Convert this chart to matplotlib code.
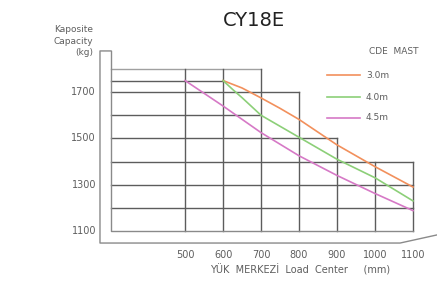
import matplotlib
matplotlib.use("Agg")
import matplotlib.pyplot as plt

# load center (mm) and capacity (kg)
mast_labels = ["3.0m", "4.0m", "4.5m"]
mast_colors = ["#f2905c", "#8ccf78", "#d679c6"]
x_30 = [600, 650, 700, 750, 800, 900, 1000, 1100]
y_30 = [1750, 1718, 1675, 1630, 1582, 1472, 1378, 1290]
x_40 = [600, 625, 650, 700, 800, 900, 1000, 1100]
y_40 = [1750, 1712, 1676, 1600, 1505, 1410, 1330, 1230]
x_45 = [500, 600, 700, 800, 900, 1000, 1100]
y_45 = [1750, 1640, 1525, 1425, 1340, 1262, 1188]

x_ticks = [500, 600, 700, 800, 900, 1000, 1100]
y_ticks = [1100, 1300, 1500, 1700]

# staircase grid of the load diagram: (level, end of line)
h_lines = [(1200, 1100), (1300, 1100), (1400, 1100), (1500, 900),
           (1600, 700), (1700, 800), (1750, 600)]
# (x, top of line)
v_lines = [(500, 1800), (600, 1800), (700, 1800), (800, 1700),
           (900, 1500), (1000, 1400), (1100, 1400)]

W, H = 437, 288
fig = plt.figure(figsize=(W / 100, H / 100), dpi=100)
ax = fig.add_axes([111 / W, 1 - 231 / H, 302 / W, 162 / H])
ax.set_xlim(305, 1100)
ax.set_ylim(1100, 1800)
ax.axis("off")

grid_c = "#5c5c5c"
frame_c = "#8a8a8a"
x0 = 305
for y, xe in h_lines:
    ax.plot([x0, xe], [y, y], color=grid_c, lw=1.0, clip_on=False)
ax.plot([x0, 700], [1800, 1800], color="#a0a0a0", lw=1.0, clip_on=False)
for x, yt in v_lines:
    ax.plot([x, x], [1100, yt], color=grid_c, lw=1.0, clip_on=False)

# frame (double line)
ax.plot([x0, x0, 1100], [1878, 1100, 1100], color=frame_c, lw=1.0, clip_on=False)
ax.plot([x0, 276, 276, 1066, 1163], [1878, 1878, 1048, 1048, 1083],
        color=frame_c, lw=1.0, clip_on=False)

for xs, ys, c in zip([x_30, x_40, x_45], [y_30, y_40, y_45], mast_colors):
    ax.plot(xs, ys, color=c, lw=1.2, clip_on=False)

tc = "#5e5e5e"
for x in x_ticks:
    ax.text(x, 1100 - 24 / 0.2317, str(x), ha="center", va="center",
            fontsize=7, color=tc, clip_on=False)
for y in y_ticks:
    ax.text(305 - 15 / 0.38, y, str(y), ha="right", va="center",
            fontsize=7, color=tc, clip_on=False)

fig.text(254 / W, 1 - 20 / H, "CY18E", ha="center", va="center",
         fontsize=14, color="#222222")
fig.text(93 / W, 1 - 41 / H, "Kaposite\nCapacity\n(kg)", ha="right",
         va="center", fontsize=6.5, color=tc, linespacing=1.3)
fig.text(300 / W, 1 - 270 / H, "YÜK  MERKEZİ  Load  Center     (mm)",
         ha="center", va="center", fontsize=7, color=tc)

# legend
fig.text(394 / W, 1 - 51 / H, "CDE  MAST", ha="center", va="center",
         fontsize=6.5, color=tc)
for i, (lab, c) in enumerate(zip(mast_labels, mast_colors)):
    yy = 1 - [75, 97, 118][i] / H
    fig.add_artist(plt.Line2D([327 / W, 360 / W], [yy, yy], color=c, lw=1.2))
    fig.text(366 / W, yy, lab, ha="left", va="center", fontsize=6.5, color=tc)

fig.savefig("out.png", dpi=100)
